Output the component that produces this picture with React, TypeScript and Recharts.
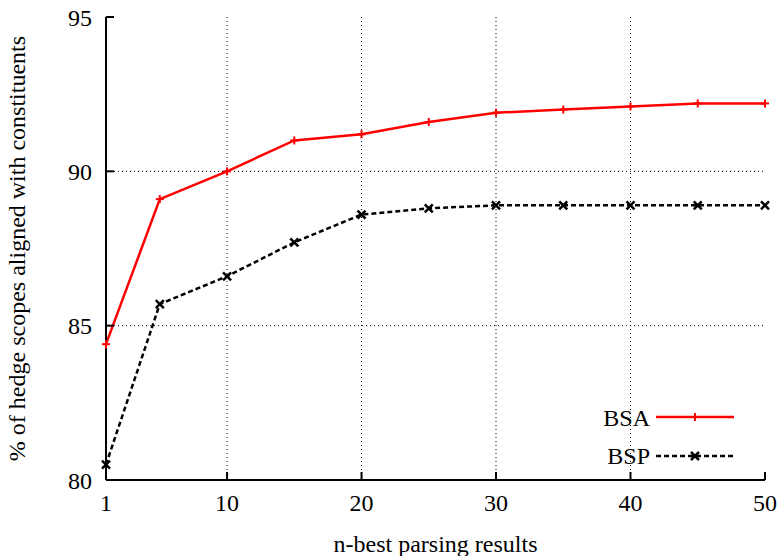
import { LineChart, Line, XAxis, YAxis, CartesianGrid } from "recharts";

const nBest = [1, 5, 10, 15, 20, 25, 30, 35, 40, 45, 50];
const bsa = [84.4, 89.1, 90.0, 91.0, 91.2, 91.6, 91.9, 92.0, 92.1, 92.2, 92.2];
const bsp = [80.5, 85.7, 86.6, 87.7, 88.6, 88.8, 88.9, 88.9, 88.9, 88.9, 88.9];
const xTicks = [1, 10, 20, 30, 40, 50];
const yTicks = [80, 85, 90, 95];

const data = nBest.map((n, i) => ({ n, BSA: bsa[i], BSP: bsp[i] }));

const FONT = '"Liberation Serif", serif';

const PlusDot = (props: any) => {
  const { cx, cy } = props;
  if (cx == null || cy == null) return null;
  return (
    <g stroke="#ff0000" strokeWidth={2}>
      <line x1={cx - 4} y1={cy} x2={cx + 4} y2={cy} />
      <line x1={cx} y1={cy - 4} x2={cx} y2={cy + 4} />
    </g>
  );
};

const CrossDot = (props: any) => {
  const { cx, cy } = props;
  if (cx == null || cy == null) return null;
  return (
    <g stroke="#000" strokeWidth={2.5}>
      <line x1={cx - 4} y1={cy - 4} x2={cx + 4} y2={cy + 4} />
      <line x1={cx - 4} y1={cy + 4} x2={cx + 4} y2={cy - 4} />
    </g>
  );
};

const tickStyle = { fontFamily: FONT, fontSize: 24, fill: "#000" };

export default function App() {
  return (
    <div style={{ position: "absolute", left: 0, top: 0, width: 781, height: 556, background: "#fff", fontFamily: FONT }}>
      <LineChart
        width={781}
        height={556}
        data={data}
        margin={{ top: 17, right: 16, bottom: 16, left: 46 }}
        style={{ fontFamily: FONT }}
      >
        <CartesianGrid
          stroke="#000"
          strokeWidth={1}
          strokeDasharray="1 3"
          verticalValues={[10, 20, 30, 40]}
          horizontalValues={[85, 90]}
        />
        <XAxis
          dataKey="n"
          type="number"
          domain={[1, 50]}
          ticks={xTicks}
          height={60}
          tickSize={-8}
          tickMargin={22}
          stroke="#000"
          strokeWidth={2}
          tick={tickStyle}
          label={{ value: "n-best parsing results", position: "insideBottom", offset: -12, style: tickStyle }}
        />
        <XAxis
          xAxisId="top"
          orientation="top"
          dataKey="n"
          type="number"
          domain={[1, 50]}
          ticks={xTicks}
          height={0}
          tickSize={-8}
          stroke="#000"
          strokeWidth={2}
          tickFormatter={() => ""}
        />
        <YAxis
          type="number"
          domain={[80, 95]}
          ticks={yTicks}
          width={60}
          tickSize={-8}
          tickMargin={22}
          stroke="#000"
          strokeWidth={2}
          tick={tickStyle}
          label={{
            value: "% of hedge scopes aligned with constituents",
            angle: -90,
            position: "insideLeft",
            offset: -30,
            style: { ...tickStyle, textAnchor: "middle" },
          }}
        />
        <YAxis
          yAxisId="right"
          orientation="right"
          type="number"
          domain={[80, 95]}
          ticks={yTicks}
          width={0}
          tickSize={-8}
          stroke="#000"
          strokeWidth={2}
          tickFormatter={() => ""}
        />
        <Line
          type="linear"
          dataKey="BSA"
          stroke="#ff0000"
          strokeWidth={2.5}
          dot={<PlusDot />}
          activeDot={false}
          isAnimationActive={false}
        />
        <Line
          type="linear"
          dataKey="BSP"
          stroke="#000"
          strokeWidth={2.5}
          strokeDasharray="5 3"
          dot={<CrossDot />}
          activeDot={false}
          isAnimationActive={false}
        />
      </LineChart>
      <svg width={160} height={70} style={{ position: "absolute", left: 590, top: 402, overflow: "visible" }}>
        <text x={60} y={24} textAnchor="end" fontFamily={FONT} fontSize={24} fill="#000">BSA</text>
        <line x1={66} y1={15} x2={144} y2={15} stroke="#ff0000" strokeWidth={2.5} />
        <PlusDot cx={105} cy={15} />
        <text x={60} y={62} textAnchor="end" fontFamily={FONT} fontSize={24} fill="#000">BSP</text>
        <line x1={66} y1={54} x2={144} y2={54} stroke="#000" strokeWidth={2.5} strokeDasharray="5 3" />
        <CrossDot cx={105} cy={54} />
      </svg>
    </div>
  );
}
